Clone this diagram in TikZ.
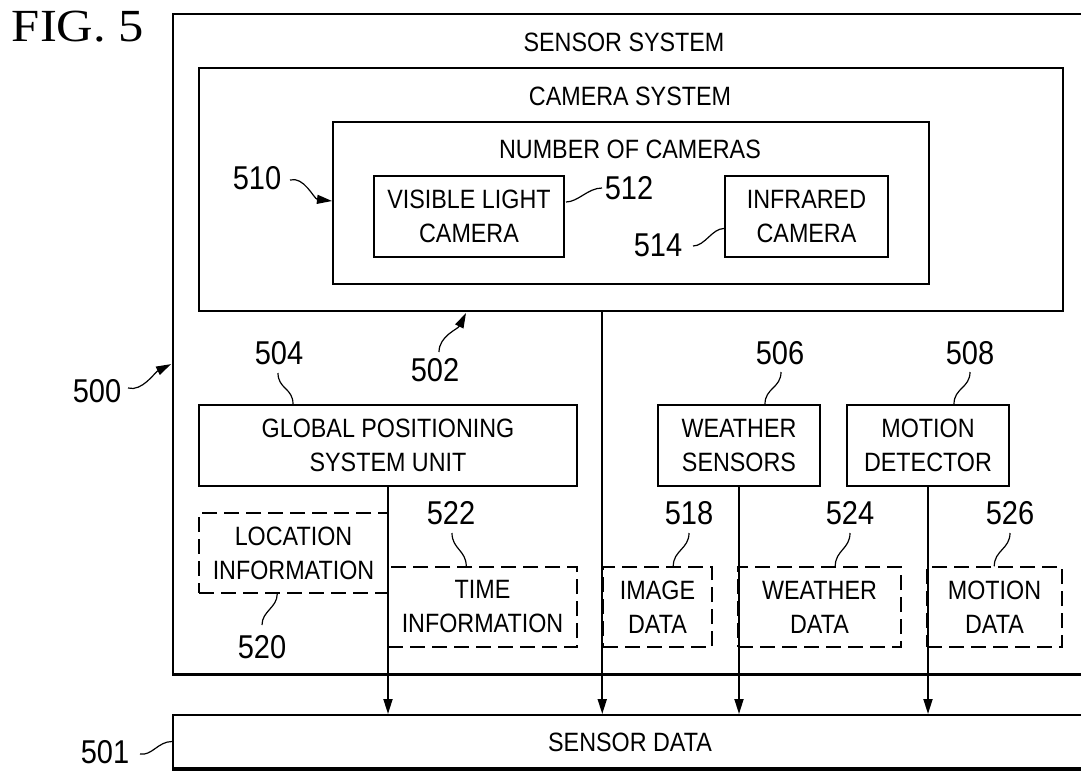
\documentclass[tikz,border=0pt]{standalone}
\usepackage{fontspec}
\setmainfont{Liberation Sans}[FakeStretch=0.88]
\newfontfamily\figfont{Liberation Serif}[FakeStretch=1.1]
\usetikzlibrary{arrows.meta,calc}
\begin{document}
\begin{tikzpicture}[x=1pt,y=-1pt,
  txt/.style={font=\fontsize{26.5}{34}\selectfont},
  box/.style={draw,line width=2pt,inner sep=0pt,align=center,txt},
  dbox/.style={draw,line width=1.5pt,dash pattern=on 15pt off 7pt,inner sep=0pt,align=center,txt},
  num/.style={inner sep=0pt,font=\fontsize{33}{36}\selectfont},
  lbl/.style={inner sep=0pt,txt},
  lead/.style={line width=1.2pt},
  tip/.style={-{Triangle[length=15pt,width=9pt]}},
  arr/.style={line width=1.8pt,tip},
]
\path[use as bounding box] (0,0) rectangle (1081,771);
\clip (0,0) rectangle (1081,771);

% title
\node[inner sep=0pt,font=\figfont\fontsize{46}{46}\selectfont] (fig) at (78,27) {FIG. 5};

% boxes
\node[box,line width=1.8pt,minimum width=927pt,minimum height=660pt] (outer) at (636.5,344) {};
\draw[line width=3pt] (outer.south west) -- (outer.south east);
\node[box,minimum width=864pt,minimum height=243pt] (cam) at (631,189.5) {};
\node[box,minimum width=596pt,minimum height=162pt] (numc) at (631,203) {};
\node[box,minimum width=190pt,minimum height=81pt] (vis) at (469,216.5) {VISIBLE LIGHT\\CAMERA};
\node[box,minimum width=163pt,minimum height=81pt] (ir) at (806.5,216.5) {INFRARED\\CAMERA};
\node[box,minimum width=378pt,minimum height=81pt] (gps) at (388,445.5) {GLOBAL POSITIONING\\SYSTEM UNIT};
\node[box,minimum width=162pt,minimum height=81pt] (ws) at (739,445.5) {WEATHER\\SENSORS};
\node[box,minimum width=162pt,minimum height=81pt] (md) at (928,445.5) {MOTION\\DETECTOR};

\node[dbox,minimum width=189pt,minimum height=80pt] (loc) at (293.5,553) {LOCATION\\INFORMATION};
\node[dbox,minimum width=189pt,minimum height=80pt] (time) at (482.5,607) {TIME\\INFORMATION};
\node[dbox,minimum width=109pt,minimum height=80pt] (img) at (657.5,607) {IMAGE\\DATA};
\node[dbox,minimum width=163pt,minimum height=80pt] (wd) at (819.5,607) {WEATHER\\DATA};
\node[dbox,minimum width=135pt,minimum height=80pt] (mdat) at (994.5,607) {MOTION\\DATA};

\node[box,minimum width=927pt,minimum height=53pt] (sd) at (636.5,741.5) {};
\draw[line width=3pt] (sd.south west) -- (sd.south east);

% box titles
\node[lbl] (tss) at (624,42) {SENSOR SYSTEM};
\node[lbl] (tcs) at (630,96) {CAMERA SYSTEM};
\node[lbl] (tnc) at (630,149) {NUMBER OF CAMERAS};
\node[lbl] (tsd) at (630,742) {SENSOR DATA};

% data flow arrows
\draw[arr] (gps.south) -- (gps.south |- sd.north);
\draw[arr] (cam.south -| img.west) -- (img.west |- sd.north);
\draw[arr] (ws.south) -- (ws.south |- sd.north);
\draw[arr] (md.south) -- (md.south |- sd.north);

% reference numerals
\node[num] (n500) at (97,391) {500};
\node[num] (n501) at (105,752) {501};
\node[num] (n502) at (435,370) {502};
\node[num] (n504) at (279,353) {504};
\node[num] (n506) at (780,353) {506};
\node[num] (n508) at (970,353) {508};
\node[num] (n510) at (257,178) {510};
\node[num] (n512) at (629,188) {512};
\node[num] (n514) at (658,245) {514};
\node[num] (n518) at (689,513) {518};
\node[num] (n520) at (262,647) {520};
\node[num] (n522) at (451,513) {522};
\node[num] (n524) at (850,513) {524};
\node[num] (n526) at (1010,513) {526};

% leaders
\draw[lead,tip] ($(n500)+(31,-3)$) .. controls +(14,4) and +(-16,8) .. ($(outer.north west)+(-1,351)$);
\draw[lead] ($(n501)+(35,2)$) .. controls +(12,2) and +(-14,0) .. (sd.west);
\draw[lead,tip] ($(n502)+(4,-18)$) .. controls +(0,-16) and +(-8,16) .. ($(cam.south west)+(268,1)$);
\draw[lead] ($(n504)+(-1,20)$) .. controls +(0,16) and +(0,-16) .. ($(gps.north west)+(95,0)$);
\draw[lead] ($(n506)+(1,19)$) .. controls +(0,16) and +(0,-16) .. ($(ws.north west)+(108,0)$);
\draw[lead] ($(n508)+(0,19)$) .. controls +(0,16) and +(0,-16) .. ($(md.north west)+(108,0)$);
\draw[lead,tip] ($(n510)+(33,2)$) .. controls +(14,-4) and +(-18,-2) .. ($(numc.west)+(0,-2)$);
\draw[lead] ($(vis.east)+(1,-14.5)$) .. controls +(12,0) and +(-14,0) .. ($(n512)+(-27,0)$);
\draw[lead] ($(n514)+(35,1)$) .. controls +(12,0) and +(-12,0) .. ($(ir.west)+(0,12)$);
\draw[lead] ($(n518)+(0,20)$) .. controls +(0,16) and +(0,-16) .. ($(img.north west)+(71,0)$);
\draw[lead] ($(n520)+(0,-22)$) .. controls +(0,-14) and +(0,14) .. ($(loc.south west)+(79,0)$);
\draw[lead] ($(n522)+(1,20)$) .. controls +(0,16) and +(0,-16) .. ($(time.north west)+(79,0)$);
\draw[lead] ($(n524)+(0,20)$) .. controls +(0,16) and +(0,-16) .. ($(wd.north west)+(98,0)$);
\draw[lead] ($(n526)+(0,20)$) .. controls +(0,16) and +(0,-16) .. ($(mdat.north west)+(68,0)$);
\end{tikzpicture}
\end{document}
